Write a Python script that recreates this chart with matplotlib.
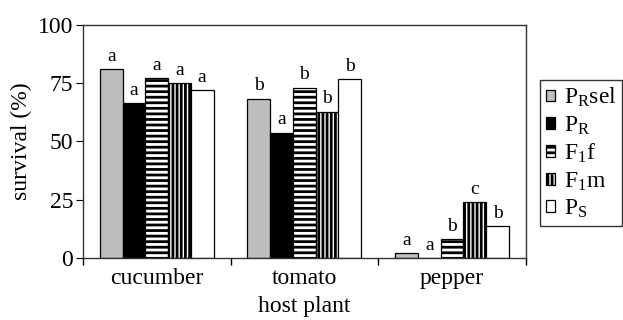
import matplotlib
matplotlib.use("Agg")
import matplotlib.pyplot as plt
import numpy as np

plt.rcParams['font.family'] = ['Liberation Serif', 'DejaVu Serif']
plt.rcParams['mathtext.fontset'] = 'custom'
plt.rcParams['mathtext.rm'] = 'Liberation Serif'
plt.rcParams['mathtext.it'] = 'Liberation Serif:italic'
plt.rcParams['hatch.linewidth'] = 2.0
plt.rcParams['hatch.color'] = 'black'

hosts = ['cucumber', 'tomato', 'pepper']
groups = ['P$_\\mathrm{R}$sel', 'P$_\\mathrm{R}$', 'F$_\\mathrm{1}$f', 'F$_\\mathrm{1}$m', 'P$_\\mathrm{S}$']
prsel = [81, 68.4, 2]
pr = [66.4, 53.8, 0]
f1f = [77.2, 73.1, 8]
f1m = [75.2, 62.8, 24]
ps = [72.2, 76.7, 13.6]
letters = [['a', 'b', 'a'], ['a', 'a', 'a'], ['a', 'b', 'b'], ['a', 'b', 'c'], ['a', 'b', 'b']]

series = [prsel, pr, f1f, f1m, ps]
colors = ['#bdbdbd', 'black', 'white', 'white', 'white']
hatches = [None, None, '---', '||||', None]

fig = plt.figure(figsize=(6.23, 3.2), dpi=100)
ax = fig.add_axes([0.133, 0.194, 0.711, 0.728])

x = np.arange(len(hosts))
w = 0.154
handles = []
for i, vals in enumerate(series):
    pos = x + (i - 2) * w
    b = ax.bar(pos, vals, w, color=colors[i], edgecolor='black', linewidth=0.9,
               hatch=hatches[i], label=groups[i])
    handles.append(b)
    for p, v, t in zip(pos, vals, letters[i]):
        ax.annotate(t, (p, v), xytext=(0, 3), textcoords='offset points',
                    ha='center', va='bottom', fontsize=14)

ax.set_xlim(-0.5, 2.5)
ax.set_ylim(0, 100)
ax.set_yticks([0, 25, 50, 75, 100])
ax.set_xticks(x)
ax.set_xticklabels(hosts)
ax.set_xticks([-0.5, 0.5, 1.5, 2.5], minor=True)
ax.tick_params(axis='x', which='major', length=0, pad=7, labelsize=17)
ax.tick_params(axis='x', which='minor', length=5, direction='out', width=1)
ax.tick_params(axis='y', length=5, direction='out', labelsize=17, pad=2)
for s in ax.spines.values():
    s.set_color('#333333')
    s.set_linewidth(1)
ax.set_ylabel('survival (%)', fontsize=17, labelpad=4)
ax.set_xlabel('host plant', fontsize=17, labelpad=5)

leg = fig.legend(handles=handles, loc='upper left', bbox_to_anchor=(540 / 623, 1 - 80 / 320),
                 fontsize=17, frameon=True, fancybox=False, edgecolor='black',
                 handlelength=0.4, handleheight=0.4, handletextpad=0.35,
                 labelspacing=0.22, borderpad=0.25, borderaxespad=0)
leg.get_frame().set_linewidth(1)

fig.savefig('out.png', dpi=100)
